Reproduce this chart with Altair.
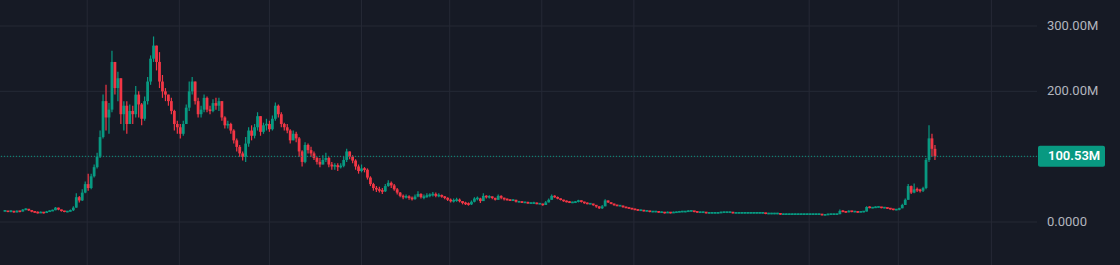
import altair as alt
import pandas as pd

# Candle closes (millions), one per candle
closes = [
    17,16,17,15,17,16,19,20,18,16,15,14,15,14,16,17,18,22,19,17,16,16,18,
    22,38,33,45,58,52,70,84,100,130,185,160,172,245,205,220,165,178,150,170,165,195,180,158,185,215,250,270,245,215,200,
    195,185,170,150,145,135,150,175,200,215,185,165,172,190,172,170,182,178,185,160,
    148,150,140,125,115,105,100,120,140,132,145,162,138,148,150,142,158,178,165,150,
    145,140,125,135,128,108,92,118,110,105,98,92,88,
    95,98,88,85,87,84,86,95,108,100,94,85,78,82,80,68,58,52,50,48,
    47,55,60,56,50,45,40,38,39,37,35,39,43,38,38,41,41,43,40,41,
    39,37,34,32,33,34,32,29,28,27,31,36,36,32,
    40,38,39,37,34,40,37,35,34,33,34,31,31,30,30,29,29,29,28,28,
    26,30,34,40,38,36,34,32,31,30,30,31,33,31,29,28,28,26,24,21,
    24,33,30,28,26,25,25,23,22,21,20,19,18,18,17,17,16,16,16,15,
    15,14,15,14,15,15,16,16,16,17,17,16,15,15,15,14,14,14,14,
    14,15,15,15,15,14,14,14,14,14,14,14,14,14,14,14,13,13,13,13,
    13,12,12,12,12,12,12,12,12,12,12,12,12,12,12,11,11,12,12,12,
    12,17,16,15,17,16,16,15,16,16,23,22,22,23,23,22,22,21,20,19,
    19,21,26,34,55,45,50,49,48,52,95,128,112,100.53,
]
highs = [
    18,17,18,17,18,17,20,21,20,18,16,16,16,15,17,18,19,23,22,19,17,17,19,
    24,44,40,50,62,74,74,88,106,140,195,210,182,262,240,230,200,185,185,180,178,208,200,182,192,222,255,284,268,260,225,
    205,195,190,172,155,150,155,180,215,222,212,190,178,195,192,178,188,190,190,185,
    162,155,152,142,128,118,108,130,145,148,150,168,162,152,158,155,163,183,180,168,
    152,150,142,140,138,130,110,122,120,115,108,100,98,
    102,106,100,92,90,90,90,100,112,108,102,96,88,88,84,82,70,60,55,54,
    52,58,64,62,58,52,46,42,42,41,39,42,47,44,42,44,44,46,45,44,
    42,40,38,36,36,37,36,32,31,30,33,38,39,37,
    44,41,41,39,37,42,41,37,36,35,35,34,32,32,31,31,30,31,30,29,
    28,32,36,42,41,39,36,34,33,32,31,32,34,33,31,30,29,28,26,24,
    26,35,33,30,28,26,26,25,23,22,21,20,19,19,18,18,17,17,17,16,
    16,15,16,15,16,16,17,17,17,18,18,17,16,16,16,15,15,15,15,
    15,16,16,16,16,15,15,15,15,15,15,15,15,15,15,15,14,14,14,14,
    14,13,13,13,13,13,13,13,13,13,13,13,13,13,13,12,12,13,13,13,
    13,19,18,16,18,17,17,16,17,17,24,24,23,24,24,23,23,22,21,20,
    20,22,28,36,58,56,59,53,51,54,98,148,135,118,
]
lows = [
    16,15,15,14,15,15,16,18,17,15,14,13,14,13,14,16,17,18,18,16,15,15,16,
    17,22,30,32,44,48,50,68,82,98,128,140,135,168,195,185,150,140,135,150,150,160,160,148,155,180,210,245,232,205,190,
    185,178,165,140,135,128,132,150,170,195,180,160,160,168,168,165,168,172,170,155,
    143,143,135,120,108,100,94,92,115,125,128,140,132,135,140,138,140,155,160,145,
    140,136,120,125,122,100,85,90,105,100,95,88,84,
    88,92,84,80,80,78,82,84,92,96,90,80,74,76,76,65,55,48,46,45,
    43,46,54,52,48,42,38,35,36,34,33,34,38,36,35,37,38,39,38,38,
    37,35,32,30,30,31,30,27,26,25,26,30,33,29,
    32,36,36,35,33,34,35,33,33,32,32,30,30,29,29,28,28,28,27,27,
    25,26,30,34,37,35,33,31,30,29,29,29,30,30,28,27,27,25,22,20,
    20,24,29,27,25,24,24,22,21,20,19,18,17,17,16,16,15,15,15,14,
    14,13,14,13,14,14,15,15,15,16,16,15,14,14,14,13,13,13,13,
    13,14,14,14,14,13,13,13,13,13,13,13,13,13,13,13,12,12,12,12,
    12,11,11,11,11,11,11,11,11,11,11,11,11,11,11,10,10,11,11,11,
    11,12,15,14,15,15,15,14,15,15,16,21,21,22,22,21,21,20,19,18,
    18,18,21,26,34,43,44,46,45,46,50,92,100,95,
]
price_ticks = [0, 100, 200, 300]
price_tick_labels = ["0.0000", "100.00M", "200.00M", "300.00M"]
# vertical time grid positions, in candle-index units
time_grid = [27.67, 58.67, 89, 120, 149.67, 180.67, 211.67, 270.67, 300.67, 332]
last_price = 100.53
last_label = "100.53M"

assert len(closes) == len(highs) == len(lows), (len(closes), len(highs), len(lows))

UP = "#089981"
DOWN = "#f23645"
BG = "#161a25"
GRID = "#252935"

rows = []
prev = closes[0]
for i, (c, h, l) in enumerate(zip(closes, highs, lows)):
    o = prev
    lo_b, hi_b = min(o, c), max(o, c)
    if hi_b - lo_b < 2.6:
        mid = (hi_b + lo_b) / 2
        lo_b, hi_b = mid - 1.3, mid + 1.3
    rows.append({
        "i": i, "open": o, "close": c,
        "high": max(h, o, c), "low": min(l, o, c),
        "blo": lo_b, "bhi": hi_b,
        "color": UP if c >= o else DOWN,
    })
    prev = c
df = pd.DataFrame(rows)

W, H = 1037, 265
xs = alt.Scale(domain=[0, W / 3], nice=False, zero=False)
ys = alt.Scale(domain=[-65.8, 339.8], nice=False, zero=False)

hgrid = alt.Chart(pd.DataFrame({"v": price_ticks})).mark_rule(
    color=GRID, strokeWidth=1
).encode(y=alt.Y("v:Q", scale=ys, axis=None))

vgrid = alt.Chart(pd.DataFrame({"t": time_grid})).mark_rule(
    color=GRID, strokeWidth=1
).encode(x=alt.X("t:Q", scale=xs, axis=None))

wicks = alt.Chart(df).mark_rule(strokeWidth=1.2).encode(
    x=alt.X("i:Q", scale=xs, axis=None),
    y=alt.Y("low:Q", scale=ys, axis=None),
    y2="high:Q",
    color=alt.Color("color:N", scale=None),
)

bodies = alt.Chart(df).mark_bar(size=2.8).encode(
    x=alt.X("i:Q", scale=xs, axis=None),
    y=alt.Y("blo:Q", scale=ys, axis=None),
    y2="bhi:Q",
    color=alt.Color("color:N", scale=None),
)

price_line = alt.Chart(pd.DataFrame({"p": [last_price]})).mark_rule(
    color=UP, strokeWidth=1, strokeDash=[1, 2]
).encode(y=alt.Y("p:Q", scale=ys, axis=None))

tick_df = pd.DataFrame({"v": price_ticks, "label": price_tick_labels})
tick_text = alt.Chart(tick_df).mark_text(
    align="left", baseline="middle", font="Roboto", fontSize=13, color="#b2b5be"
).encode(
    x=alt.value(1047),
    y=alt.Y("v:Q", scale=ys, axis=None),
    text="label:N",
)

box_df = pd.DataFrame({"p": [last_price], "label": [last_label]})
price_box = alt.Chart(box_df).mark_rect(
    color=UP, cornerRadius=2, yOffset=-10.5, y2Offset=10.5
).encode(
    x=alt.value(1038), x2=alt.value(1105),
    y=alt.Y("p:Q", scale=ys, axis=None), y2="p:Q",
)
price_text = alt.Chart(box_df).mark_text(
    align="left", baseline="middle", font="Roboto", fontSize=13,
    fontWeight=600, color="#ffffff"
).encode(
    x=alt.value(1048),
    y=alt.Y("p:Q", scale=ys, axis=None),
    text="label:N",
)

chart = alt.layer(
    hgrid, vgrid, wicks, bodies, price_line, tick_text, price_box, price_text
).properties(
    width=W, height=H,
    autosize="none",
    padding={"left": 0, "top": 0, "right": 83, "bottom": 0},
    background=BG,
).configure_view(strokeWidth=0)

chart.save("out.html", embed_options={"renderer": "svg", "actions": False})
